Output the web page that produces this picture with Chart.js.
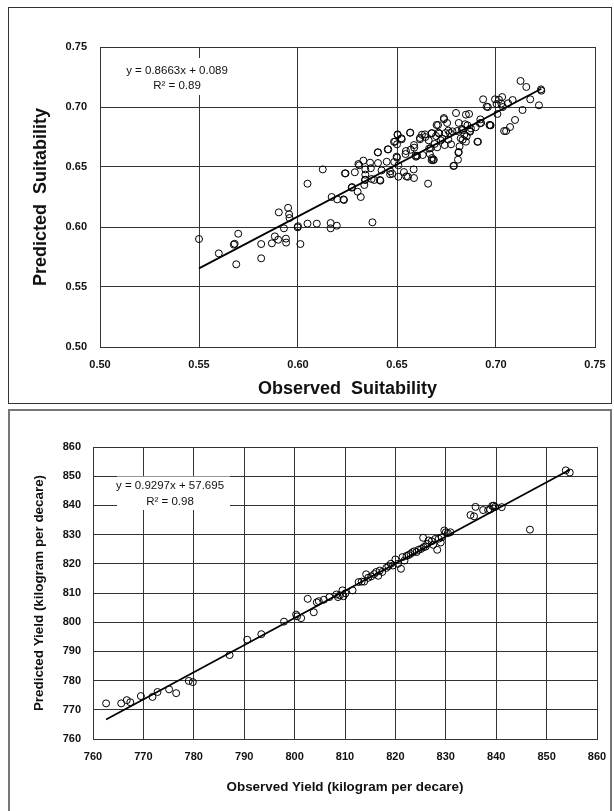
<!DOCTYPE html>
<html>
<head>
<meta charset="utf-8">
<script src="https://cdn.jsdelivr.net/npm/chart.js@4.4.0/dist/chart.umd.min.js"></script>
<style>
  html, body { margin: 0; padding: 0; background: #fff; }
  body { width: 614px; height: 811px; position: relative; overflow: hidden; }
  .box { position: absolute; box-sizing: border-box; }
  #box1 { left: 8px; top: 7px; width: 604px; height: 397px; border: 1px solid #333; }
  #box2 { left: 8px; top: 409px; width: 604px; height: 420px; border: 2px solid #777; }
  canvas { position: absolute; }
  #suitChart { left: 9px; top: 8px; }
  #yieldChart { left: 10px; top: 411px; }
</style>
</head>
<body>
<div class="box" id="box1"></div>
<div class="box" id="box2"></div>
<canvas id="suitChart" width="601" height="394"></canvas>
<canvas id="yieldChart" width="599" height="400"></canvas>
<script>
// ---- top chart: suitability ----
const obsSuit = [
  0.550, 0.560, 0.5676, 0.568, 0.5698, 0.5688, 0.5814, 0.5814, 0.5868, 0.5883,
  0.5903, 0.590, 0.5929, 0.5939, 0.594, 0.595, 0.5955, 0.5957, 0.5998, 0.600,
  0.6012, 0.6048, 0.6048, 0.6095, 0.6125, 0.6165, 0.6165, 0.617, 0.6196, 0.6198,
  0.623, 0.6232, 0.624, 0.6273, 0.6287, 0.6301, 0.6309, 0.6317, 0.633, 0.6335,
  0.634, 0.634, 0.634, 0.6364, 0.6368, 0.6376, 0.6385, 0.6404, 0.6404, 0.6416,
  0.6422, 0.6448, 0.6456, 0.6466, 0.6476, 0.6486, 0.649, 0.650, 0.650, 0.6503,
  0.6507, 0.6507, 0.6522, 0.6535, 0.6543, 0.6547, 0.6555, 0.6567, 0.6569, 0.6586,
  0.6584, 0.6586, 0.6594, 0.6602, 0.6616, 0.6626, 0.663, 0.6643, 0.6657, 0.666,
  0.6662, 0.6666, 0.667, 0.6676, 0.6677, 0.6682, 0.6686, 0.669, 0.6697, 0.6703,
  0.6707, 0.6713, 0.6721, 0.6729, 0.6737, 0.6741, 0.6745, 0.6753, 0.6759, 0.6767,
  0.6773, 0.678, 0.6788, 0.6798, 0.6804, 0.6808, 0.6812, 0.6812, 0.6816, 0.6822,
  0.6828, 0.6832, 0.684, 0.6844, 0.6848, 0.6848, 0.6852, 0.6856, 0.6864, 0.6868,
  0.6873, 0.6897, 0.6909, 0.6921, 0.6925, 0.6935, 0.6959, 0.6967, 0.6973, 0.6995,
  0.7003, 0.7007, 0.7015, 0.7027, 0.7031, 0.7035, 0.7041, 0.7051, 0.7061, 0.7071,
  0.7084, 0.7096, 0.7124, 0.7134, 0.7153, 0.7173, 0.7217, 0.7227, 0.7229,
  0.6566, 0.6503, 0.6485, 0.6524, 0.6453, 0.6403, 0.6616, 0.6641, 0.6675, 0.6709,
  0.6759, 0.6831, 0.6869, 0.6919, 0.6953, 0.6596, 0.6587, 0.6545, 0.6498, 0.6465,
  0.6414, 0.6372, 0.6338, 0.6305, 0.6271, 0.6237, 0.6737, 0.670, 0.6675, 0.6785,
  0.681, 0.6906, 0.697
];
const predSuit = [
  0.590, 0.578, 0.5853, 0.586, 0.5944, 0.5689, 0.5739, 0.5858, 0.5864, 0.5922,
  0.6122, 0.5894, 0.5989, 0.5903, 0.587, 0.616, 0.6106, 0.6075, 0.5997, 0.6006,
  0.5858, 0.6361, 0.6028, 0.6028, 0.648, 0.6033, 0.5989, 0.625, 0.6011, 0.623,
  0.623, 0.6225, 0.6447, 0.6333, 0.6456, 0.6294, 0.6514, 0.625, 0.6553, 0.635,
  0.6394, 0.6436, 0.648, 0.6536, 0.649, 0.6039, 0.6392, 0.6622, 0.6533, 0.6386,
  0.6472, 0.6544, 0.6647, 0.6464, 0.6444, 0.6542, 0.6711, 0.6578, 0.6689, 0.6767,
  0.6514, 0.6419, 0.6739, 0.6458, 0.6608, 0.6422, 0.6419, 0.6786, 0.6644, 0.6683,
  0.648, 0.6408, 0.6594, 0.6594, 0.6742, 0.6769, 0.660, 0.675, 0.6361, 0.6722,
  0.6653, 0.6608, 0.6658, 0.6783, 0.6575, 0.6556, 0.6561, 0.6692, 0.6758, 0.6664,
  0.685, 0.6778, 0.6722, 0.6736, 0.6908, 0.6683, 0.6783, 0.6867, 0.6728, 0.6783,
  0.6689, 0.6797, 0.6511, 0.695, 0.680, 0.6561, 0.6625, 0.6867, 0.6672, 0.6739,
  0.6817, 0.6728, 0.6769, 0.6856, 0.6711, 0.6936, 0.6756, 0.6847, 0.6942, 0.680,
  0.6822, 0.6831, 0.6711, 0.6897, 0.6867, 0.7064, 0.700, 0.685, 0.6847, 0.7064,
  0.7025, 0.6942, 0.7061, 0.7028, 0.7083, 0.700, 0.680, 0.680, 0.7031, 0.6833,
  0.7058, 0.6892, 0.7217, 0.6975, 0.7167, 0.7064, 0.7014, 0.7147, 0.7136,
  0.6786, 0.6772, 0.671, 0.6731, 0.6647, 0.6622, 0.6731, 0.6772, 0.678, 0.6786,
  0.6803, 0.6808, 0.6794, 0.6864, 0.7003, 0.6586, 0.6661, 0.6633, 0.6586, 0.6439,
  0.6392, 0.640, 0.6392, 0.6525, 0.6328, 0.6447, 0.6898, 0.685, 0.6558, 0.6508,
  0.662, 0.671, 0.685
];
const suitTrendX = [0.550, 0.7229];
const suitTrendY = [0.5655, 0.7152];
const suitTicks = [0.50, 0.55, 0.60, 0.65, 0.70, 0.75];
const suitEquation = ['y = 0.8663x + 0.089', 'R\u00b2 = 0.89'];

// ---- bottom chart: yield ----
const obsYield = [
  762.6, 765.6, 766.7, 767.4, 769.5, 771.8, 772.8, 775.1, 776.5, 779.0,
  779.8, 787.1, 790.6, 793.4, 797.9, 800.3, 800.5, 801.3, 802.6, 803.8,
  804.4, 804.8, 805.8, 806.9, 808.3, 808.6, 809.0, 809.5, 809.7, 810.1,
  811.5, 812.7, 813.3, 813.8, 814.2, 814.6, 815.2, 815.8, 816.2, 816.6,
  816.9, 817.4, 818.2, 818.6, 819.1, 819.5, 820.0, 820.5, 821.1, 821.4,
  821.8, 822.2, 822.6, 823.0, 823.4, 823.8, 824.2, 824.6, 825.1, 825.5,
  825.6, 826.0, 826.3, 826.6, 827.2, 827.5, 827.9, 828.3, 828.6, 829.0,
  829.2, 829.7, 830.0, 830.4, 830.9, 834.9, 835.6, 835.9, 837.4, 838.4,
  838.8, 839.2, 839.5, 839.8, 841.1, 846.7, 853.8, 854.6
];
const predYield = [
  772.2, 772.2, 773.3, 772.6, 774.7, 774.4, 776.1, 777.0, 775.7, 779.9,
  779.5, 788.75, 794.0, 795.9, 800.2, 802.6, 802.0, 801.4, 808.0, 803.4,
  806.8, 807.2, 807.7, 808.6, 809.5, 808.6, 809.2, 810.9, 808.9, 809.9,
  810.9, 813.75, 813.9, 813.9, 816.4, 815.2, 815.7, 816.5, 817.2, 815.9,
  817.7, 817.2, 818.6, 819.2, 820.0, 819.4, 821.5, 820.0, 818.3, 822.3,
  821.1, 822.7, 823.0, 823.4, 824.0, 824.3, 824.0, 824.8, 825.1, 828.9,
  825.7, 825.9, 826.8, 828.0, 827.7, 826.5, 828.5, 824.8, 828.6, 827.3,
  829.1, 831.4, 830.8, 830.5, 830.8, 836.7, 836.25, 839.5, 838.4, 838.4,
  838.6, 839.8, 839.9, 839.5, 839.4, 831.7, 852.0, 851.25
];
const yieldTrendX = [762.6, 854.6];
const yieldTrendY = [766.7, 852.2];
const yieldTicks = [760, 770, 780, 790, 800, 810, 820, 830, 840, 850, 860];
const yieldEquation = ['y = 0.9297x + 57.695', 'R\u00b2 = 0.98'];

const tickFont = { family: '"Liberation Sans", Arial, sans-serif', size: 11, weight: 'bold' };
const eqFont = '11.5px "Liberation Sans", Arial, sans-serif';

function toPoints(xs, ys) {
    return xs.map((x, i) => ({ x: x, y: ys[i] }));
}

// white label box with the regression equation, drawn over the grid
const equationPlugin = {
    id: 'equation',
    beforeDatasetsDraw(chart, args, opts) {
        const ctx = chart.ctx;
        ctx.save();
        ctx.fillStyle = '#fff';
        ctx.fillRect(opts.box[0], opts.box[1], opts.box[2], opts.box[3]);
        ctx.fillStyle = '#111';
        ctx.font = eqFont;
        ctx.textAlign = 'center';
        ctx.textBaseline = 'middle';
        opts.lines.forEach((line, i) => {
            ctx.fillText(line, opts.x, opts.y + i * opts.gap);
        });
        ctx.restore();
    }
};

function makeChart(canvasId, cfg) {
    const xs = cfg.ticks;
    return new Chart(document.getElementById(canvasId), {
        type: 'scatter',
        data: {
            datasets: [
                {
                    data: toPoints(cfg.obs, cfg.pred),
                    pointStyle: 'circle',
                    pointRadius: 3.5,
                    pointBorderWidth: 1,
                    pointBorderColor: '#000',
                    pointBackgroundColor: 'rgba(0,0,0,0)',
                    showLine: false
                },
                {
                    data: toPoints(cfg.trendX, cfg.trendY),
                    showLine: true,
                    borderColor: '#000',
                    borderWidth: 1.8,
                    pointRadius: 0,
                    fill: false
                }
            ]
        },
        options: {
            responsive: false,
            animation: false,
            events: [],
            layout: { padding: { left: 0, top: cfg.padTop, right: cfg.padRight, bottom: 0 } },
            plugins: {
                legend: { display: false },
                tooltip: { enabled: false },
                equation: cfg.equation
            },
            scales: {
                x: {
                    type: 'linear',
                    min: xs[0],
                    max: xs[xs.length - 1],
                    afterBuildTicks: (s) => { s.ticks = xs.map(v => ({ value: v })); },
                    afterFit: (s) => {
                        s.height = cfg.xHeight;
                        s.paddingLeft = 0;
                        s.paddingRight = 0;
                    },
                    grid: { color: '#333', lineWidth: 1, drawTicks: false },
                    border: { color: '#333', width: 1 },
                    ticks: {
                        color: '#111',
                        font: tickFont,
                        padding: cfg.xTickPad,
                        maxRotation: 0,
                        callback: cfg.fmt
                    },
                    title: {
                        display: true,
                        text: cfg.xTitle,
                        color: '#111',
                        font: { family: '"Liberation Sans", Arial, sans-serif', size: cfg.titleSize, weight: 'bold', lineHeight: 1.2 },
                        padding: { top: 0, bottom: cfg.xTitlePad }
                    }
                },
                y: {
                    type: 'linear',
                    min: xs[0],
                    max: xs[xs.length - 1],
                    afterBuildTicks: (s) => { s.ticks = xs.map(v => ({ value: v })); },
                    afterFit: (s) => {
                        s.width = cfg.yWidth;
                        s.paddingTop = 0;
                        s.paddingBottom = 0;
                    },
                    grid: { color: '#333', lineWidth: 1, drawTicks: false },
                    border: { color: '#333', width: 1 },
                    ticks: {
                        color: '#111',
                        font: tickFont,
                        padding: cfg.yTickPad,
                        callback: cfg.fmt
                    },
                    title: {
                        display: true,
                        text: cfg.yTitle,
                        color: '#111',
                        font: { family: '"Liberation Sans", Arial, sans-serif', size: cfg.titleSize, weight: 'bold', lineHeight: 1.2 },
                        padding: { top: cfg.yTitlePad, bottom: 0 }
                    }
                }
            }
        },
        plugins: [equationPlugin]
    });
}

makeChart('suitChart', {
    obs: obsSuit, pred: predSuit,
    trendX: suitTrendX, trendY: suitTrendY,
    ticks: suitTicks,
    fmt: (v) => Number(v).toFixed(2),
    xTitle: 'Observed  Suitability',
    yTitle: 'Predicted  Suitability',
    titleSize: 18,
    padTop: 39, padRight: 15,
    xHeight: 55, yWidth: 91,
    xTickPad: 11, yTickPad: 13,
    xTitlePad: 2.5, yTitlePad: 21,
    equation: { lines: suitEquation, x: 168, y: 63, gap: 14.5, box: [111, 50, 115, 37] }
});

makeChart('yieldChart', {
    obs: obsYield, pred: predYield,
    trendX: yieldTrendX, trendY: yieldTrendY,
    ticks: yieldTicks,
    fmt: (v) => String(Math.round(v)),
    xTitle: 'Observed Yield (kilogram per decare)',
    yTitle: 'Predicted Yield (kilogram per decare)',
    titleSize: 13.4,
    padTop: 36, padRight: 12,
    xHeight: 72, yWidth: 83,
    xTickPad: 11, yTickPad: 12,
    xTitlePad: 16, yTitlePad: 21,
    equation: { lines: yieldEquation, x: 160, y: 75, gap: 16, box: [107, 65.5, 113, 33.5] }
});
</script>
</body>
</html>
